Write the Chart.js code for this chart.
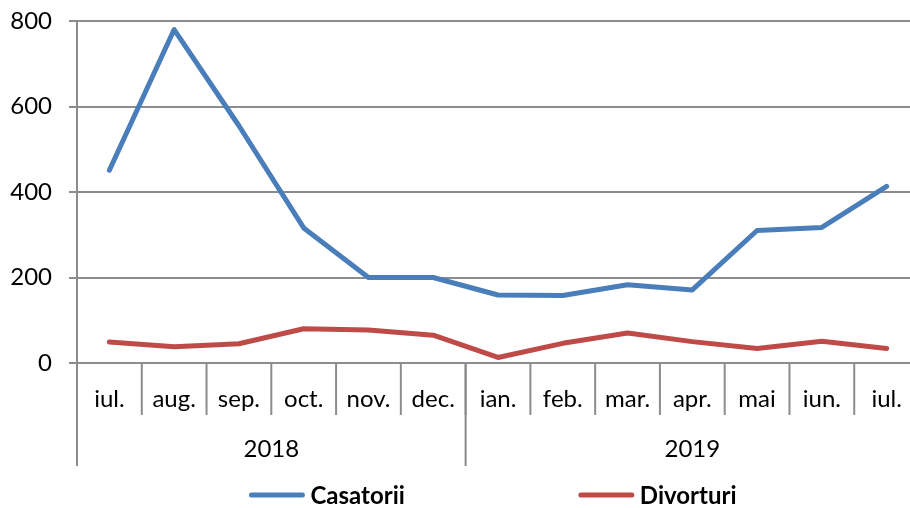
<!DOCTYPE html>
<html>
<head>
<meta charset="utf-8">
<script src="https://cdn.jsdelivr.net/npm/chart.js@4.4.1/dist/chart.umd.min.js"></script>
<style>
  html, body { margin: 0; padding: 0; background: #fff; }
  #wrap { width: 910px; height: 508px; }
</style>
</head>
<body>
<div id="wrap"><canvas id="chart" width="910" height="508"></canvas></div>
<script>
const months = ['iul.', 'aug.', 'sep.', 'oct.', 'nov.', 'dec.', 'ian.', 'feb.', 'mar.', 'apr.', 'mai', 'iun.', 'iul.'];
const years = ['2018', '2019'];
const yearSpans = [6, 7];
const casatorii = [451, 780, 555, 316, 200, 200, 159, 158, 183, 171, 310, 317, 413];
const divorturi = [49, 38, 45, 80, 77, 65, 13, 46, 70, 50, 34, 51, 34];
const yTicks = [0, 200, 400, 600, 800];

const FONT = 'Lato';
const GRAY = '#8c8c8c';

// the original plot runs a little past the right edge of the picture
const widenArea = {
  id: 'widenArea',
  afterLayout(chart) {
    const extra = 919 - chart.chartArea.right;
    const x = chart.scales.x;
    chart.chartArea.right += extra;
    chart.chartArea.width += extra;
    x.right += extra;
    x.width += extra;
    x.configure();
  }
};

// month separators, year separators and year labels under the axis
const groupAxis = {
  id: 'groupAxis',
  afterDraw(chart) {
    const ctx = chart.ctx;
    const x = chart.scales.x;
    const top = x.top;
    const half = (x.getPixelForValue(1) - x.getPixelForValue(0)) / 2;
    const edge = i => x.getPixelForValue(i) - half;
    ctx.save();
    ctx.strokeStyle = GRAY;
    ctx.lineWidth = 2;
    for (let i = 0; i <= months.length; i++) {
      ctx.beginPath();
      ctx.moveTo(edge(i), top);
      ctx.lineTo(edge(i), top + 52);
      ctx.stroke();
    }
    let start = 0;
    ctx.fillStyle = '#000';
    ctx.font = '24px ' + FONT;
    ctx.textAlign = 'center';
    ctx.textBaseline = 'middle';
    years.forEach((y, k) => {
      const end = start + yearSpans[k];
      ctx.beginPath();
      ctx.moveTo(edge(start), top);
      ctx.lineTo(edge(start), top + 103);
      ctx.stroke();
      ctx.fillText(y, (edge(start) + edge(end)) / 2, top + 86);
      start = end;
    });
    ctx.restore();
  }
};

// legend line samples with bold names under the plot area
const lineLegend = {
  id: 'lineLegend',
  afterDraw(chart) {
    const ctx = chart.ctx;
    const area = chart.chartArea;
    const sets = chart.data.datasets;
    const gap = 174, sample = 55, space = 6;
    ctx.save();
    ctx.font = 'bold 24px ' + FONT;
    const widths = sets.map(d => sample + space + ctx.measureText(d.label).width);
    const total = widths.reduce((a, b) => a + b, 0) + gap * (sets.length - 1);
    let cx = (area.left + area.right) / 2 - 5 - total / 2;
    const cy = 495;
    sets.forEach((d, i) => {
      ctx.strokeStyle = d.borderColor;
      ctx.lineWidth = 5;
      ctx.lineCap = 'round';
      ctx.beginPath();
      ctx.moveTo(cx + 2, cy);
      ctx.lineTo(cx + sample - 2, cy);
      ctx.stroke();
      ctx.fillStyle = '#000';
      ctx.textAlign = 'left';
      ctx.textBaseline = 'middle';
      ctx.fillText(d.label, cx + sample + space, cy + 1);
      cx += widths[i] + gap;
    });
    ctx.restore();
  }
};

new Chart(document.getElementById('chart'), {
  type: 'line',
  data: {
    labels: months,
    datasets: [
      {
        label: 'Casatorii',
        data: casatorii,
        borderColor: '#4a7ebb',
        backgroundColor: '#4a7ebb',
        borderWidth: 5,
        borderCapStyle: 'round',
        borderJoinStyle: 'round',
        pointRadius: 0,
        tension: 0,
      },
      {
        label: 'Divorturi',
        data: divorturi,
        borderColor: '#be4b48',
        backgroundColor: '#be4b48',
        borderWidth: 5,
        borderCapStyle: 'round',
        borderJoinStyle: 'round',
        pointRadius: 0,
        tension: 0,
      },
    ],
  },
  options: {
    responsive: false,
    animation: false,
    layout: { autoPadding: false, padding: { top: 21, right: 0, bottom: 42, left: 0 } },
    plugins: {
      legend: { display: false },
      tooltip: { enabled: false },
    },
    scales: {
      x: {
        type: 'category',
        offset: true,
        grid: { display: false },
        border: { display: true, color: GRAY, width: 2 },
        ticks: {
          color: '#000',
          font: { family: FONT, size: 24 },
          padding: 14,
          maxRotation: 0,
          autoSkip: false,
        },
        afterFit(scale) { scale.height = 103; },
      },
      y: {
        min: 0,
        max: 800,
        afterBuildTicks(scale) { scale.ticks = yTicks.map(v => ({ value: v })); },
        grid: { color: GRAY, lineWidth: 2, tickLength: 8 },
        border: { display: true, color: GRAY, width: 2 },
        ticks: {
          color: '#000',
          font: { family: FONT, size: 24 },
          padding: 17,
        },
        afterFit(scale) {
          scale.width = 77;
          scale.paddingTop = 0;
          scale.paddingBottom = 0;
        },
      },
    },
  },
  plugins: [widenArea, groupAxis, lineLegend],
});
</script>
</body>
</html>
